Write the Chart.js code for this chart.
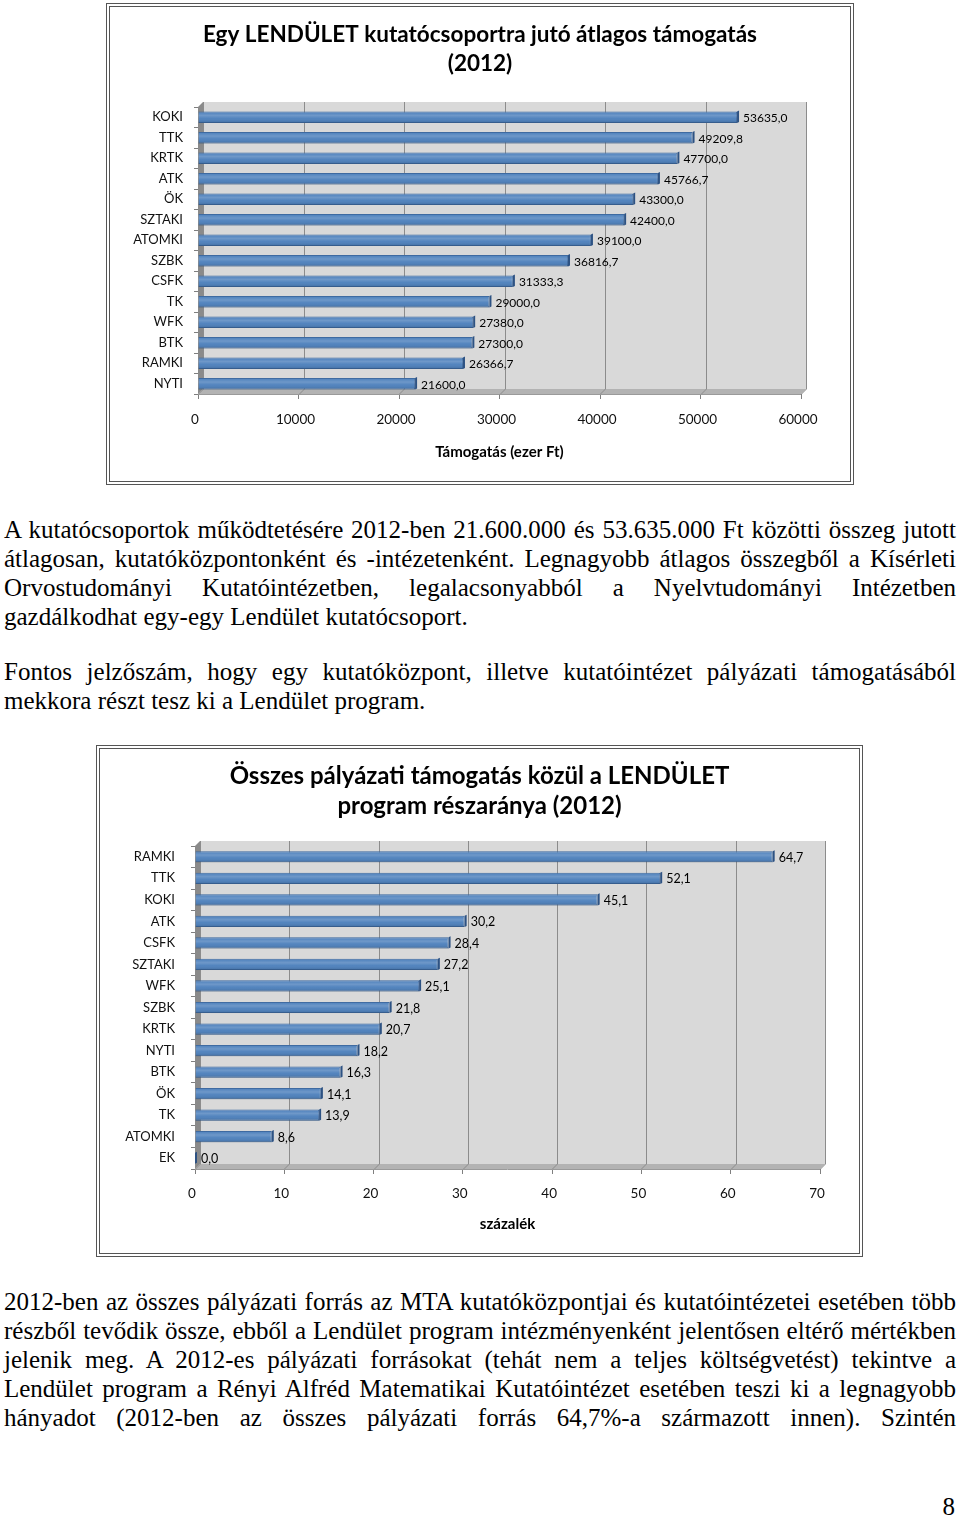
<!DOCTYPE html>
<html>
<head>
<meta charset="utf-8">
<script src="https://cdn.jsdelivr.net/npm/chart.js@4.4.1/dist/chart.umd.min.js"></script>
<style>
  body { margin: 0; background: #fff; }
  #page { position: relative; width: 960px; height: 1517px; overflow: hidden;
          font-family: "Liberation Serif", "Times New Roman", serif; color: #000; }
  .frame { position: absolute; box-sizing: border-box; border: 4px double #555; background: #fff; }
  .line { position: absolute; left: 4px; width: 952px; font-size: 25px; line-height: 29px;
          text-align: justify; text-align-last: justify; }
  .line.last { text-align-last: left; }
  canvas { position: absolute; }
  #pageno { position: absolute; right: 5px; top: 1492px; font-size: 25px; line-height: 29px; }
</style>
</head>
<body>
<div id="page">
  <div class="frame" style="left:106px;top:3px;width:748px;height:482px"></div>
  <canvas id="chart1" width="740" height="474" style="left:110px;top:7px"></canvas>

  <div class="line" style="top:515px">A kutatócsoportok működtetésére 2012-ben 21.600.000 és 53.635.000 Ft közötti összeg jutott</div>
  <div class="line" style="top:544px">átlagosan, kutatóközpontonként és -intézetenként. Legnagyobb átlagos összegből a Kísérleti</div>
  <div class="line" style="top:573px">Orvostudományi Kutatóintézetben, legalacsonyabból a Nyelvtudományi Intézetben</div>
  <div class="line last" style="top:602px">gazdálkodhat egy-egy Lendület kutatócsoport.</div>
  <div class="line" style="top:657px">Fontos jelzőszám, hogy egy kutatóközpont, illetve kutatóintézet pályázati támogatásából</div>
  <div class="line last" style="top:686px">mekkora részt tesz ki a Lendület program.</div>

  <div class="frame" style="left:96px;top:745px;width:767px;height:512px"></div>
  <canvas id="chart2" width="759" height="504" style="left:100px;top:749px"></canvas>

  <div class="line" style="top:1287px">2012-ben az összes pályázati forrás az MTA kutatóközpontjai és kutatóintézetei esetében több</div>
  <div class="line" style="top:1316px">részből tevődik össze, ebből a Lendület program intézményenként jelentősen eltérő mértékben</div>
  <div class="line" style="top:1345px">jelenik meg. A 2012-es pályázati forrásokat (tehát nem a teljes költségvetést) tekintve a</div>
  <div class="line" style="top:1374px">Lendület program a Rényi Alfréd Matematikai Kutatóintézet esetében teszi ki a legnagyobb</div>
  <div class="line" style="top:1403px">hányadot (2012-ben az összes pályázati forrás 64,7%-a származott innen). Szintén</div>
  <div id="pageno">8</div>
</div>

<script>
// Chart 1: average support per LENDÜLET group (thousand Ft)
const avgLabels = ["KOKI", "TTK", "KRTK", "ATK", "ÖK", "SZTAKI", "ATOMKI", "SZBK", "CSFK", "TK", "WFK", "BTK", "RAMKI", "NYTI"];
const avgValues = [53635.0, 49209.8, 47700.0, 45766.7, 43300.0, 42400.0, 39100.0, 36816.7, 31333.3, 29000.0, 27380.0, 27300.0, 26366.7, 21600.0];
const avgTicks = [0, 10000, 20000, 30000, 40000, 50000, 60000];

// Chart 2: share of LENDÜLET in all grant funding (percent)
const shareLabels = ["RAMKI", "TTK", "KOKI", "ATK", "CSFK", "SZTAKI", "WFK", "SZBK", "KRTK", "NYTI", "BTK", "ÖK", "TK", "ATOMKI", "EK"];
const shareValues = [64.7, 52.1, 45.1, 30.2, 28.4, 27.2, 25.1, 21.8, 20.7, 18.2, 16.3, 14.1, 13.9, 8.6, 0.0];
const shareTicks = [0, 10, 20, 30, 40, 50, 60, 70];

Chart.defaults.font.family = "Lato, 'Liberation Sans', sans-serif";
Chart.defaults.color = "#111";

// Draws the grey 3D box behind the bars (back wall, floor, left wall, grid)
const wall3d = {
  id: "wall3d",
  beforeDatasetsDraw(chart, args, opts) {
    const { ctx, chartArea: a, scales: { x } } = chart;
    const d = opts.depth;
    const x0 = x.getPixelForValue(x.min);
    const x1 = x.getPixelForValue(x.max);
    ctx.save();
    // back wall
    ctx.fillStyle = "#d9d9d9";
    ctx.fillRect(x0 + d, a.top - d, x1 - x0, a.bottom - a.top);
    // floor
    ctx.fillStyle = "#b3b3b3";
    ctx.beginPath();
    ctx.moveTo(x0, a.bottom);
    ctx.lineTo(x1, a.bottom);
    ctx.lineTo(x1 + d, a.bottom - d);
    ctx.lineTo(x0 + d, a.bottom - d);
    ctx.closePath();
    ctx.fill();
    // left wall
    ctx.fillStyle = "#8a8a8a";
    ctx.beginPath();
    ctx.moveTo(x0, a.top);
    ctx.lineTo(x0 + d, a.top - d);
    ctx.lineTo(x0 + d, a.bottom - d);
    ctx.lineTo(x0, a.bottom);
    ctx.closePath();
    ctx.fill();
    // grid lines on the back wall and floor
    ctx.strokeStyle = "#8c8c8c";
    ctx.lineWidth = 1;
    x.ticks.forEach((t) => {
      const px = Math.round(x.getPixelForValue(t.value)) + 0.5;
      ctx.beginPath();
      ctx.moveTo(px + d, a.top - d);
      ctx.lineTo(px + d, a.bottom - d);
      ctx.lineTo(px, a.bottom);
      ctx.stroke();
    });
    ctx.strokeStyle = "#9a9a9a";
    ctx.beginPath();
    ctx.moveTo(x0, a.bottom + 0.5);
    ctx.lineTo(x1, a.bottom + 0.5);
    ctx.stroke();
    ctx.restore();
  }
};

// Bar shading, end caps and the value labels
const bar3d = {
  id: "bar3d",
  afterDatasetsDraw(chart, args, opts) {
    const ctx = chart.ctx;
    const values = chart.data.datasets[0].data;
    ctx.save();
    chart.getDatasetMeta(0).data.forEach((bar, i) => {
      const { x, y, base, height } = bar.getProps(["x", "y", "base", "height"], true);
      const top = y - height / 2;
      const bot = y + height / 2;
      const g = ctx.createLinearGradient(0, top, 0, bot);
      g.addColorStop(0, "rgba(255,255,255,0.0)");
      g.addColorStop(0.35, "rgba(255,255,255,0.2)");
      g.addColorStop(0.6, "rgba(255,255,255,0.05)");
      g.addColorStop(1, "rgba(0,0,0,0.15)");
      ctx.fillStyle = g;
      ctx.fillRect(base, top, x - base, height);
      // end face
      ctx.fillStyle = "#2d5283";
      ctx.beginPath();
      ctx.moveTo(x, top);
      ctx.lineTo(x + 2, top - 1);
      ctx.lineTo(x + 2, bot - 1);
      ctx.lineTo(x, bot);
      ctx.closePath();
      ctx.fill();
      // value label
      ctx.fillStyle = "#000";
      ctx.font = opts.labelSize + "px Lato, 'Liberation Sans', sans-serif";
      ctx.textAlign = "left";
      ctx.textBaseline = "middle";
      ctx.fillText(values[i].toFixed(1).replace(".", ","), x + 6, y + 1);
    });
    ctx.restore();
  }
};

function makeChart(id, labels, values, ticks, cfg) {
  return new Chart(document.getElementById(id), {
    type: "bar",
    data: {
      labels: labels,
      datasets: [{
        data: values,
        backgroundColor: "#4a7ebb",
        borderColor: "#3a679f",
        borderWidth: 1,
        borderSkipped: "start",
        barPercentage: cfg.barPct,
        categoryPercentage: 1
      }]
    },
    options: {
      indexAxis: "y",
      responsive: false,
      animation: false,
      layout: { padding: 0 },
      plugins: {
        legend: { display: false },
        tooltip: { enabled: false },
        title: {
          display: true,
          text: cfg.title,
          color: "#000",
          font: { size: cfg.titleSize, weight: "bold", lineHeight: cfg.titleLH },
          padding: { top: cfg.titleTop, bottom: cfg.titleBottom }
        },
        wall3d: { depth: cfg.depth },
        bar3d: { labelSize: cfg.labelSize }
      },
      scales: {
        x: {
          min: 0,
          max: ticks[ticks.length - 1],
          afterBuildTicks: (scale) => { scale.ticks = ticks.map((v) => ({ value: v })); },
          afterFit: (scale) => { scale.height = cfg.xHeight; },
          grid: { drawOnChartArea: false, drawTicks: true, tickLength: 5, color: "#7f7f7f" },
          border: { display: false },
          ticks: {
            font: { size: 13.5 }, padding: cfg.xPad, labelOffset: -3, color: "#111",
            callback: (v) => String(v)
          },
          title: {
            display: true,
            text: cfg.xTitle,
            color: "#000",
            font: { size: 15, weight: "bold" },
            padding: { top: 0, bottom: cfg.xTitlePad }
          }
        },
        y: {
          afterFit: (scale) => { scale.width = cfg.yWidth; },
          grid: { drawOnChartArea: false, drawTicks: true, tickLength: 4, offset: true, color: "#7f7f7f" },
          border: { display: false },
          ticks: { font: { size: 13 }, padding: cfg.yPad, color: "#111" }
        },
        // empty right-hand axis, only reserves the margin so the title stays centred
        yRight: {
          type: "category",
          position: "right",
          afterFit: (scale) => { scale.width = cfg.rightGap; },
          grid: { display: false },
          border: { display: false },
          ticks: { display: false }
        }
      }
    },
    plugins: [wall3d, bar3d]
  });
}

makeChart("chart1", avgLabels, avgValues, avgTicks, {
  title: ["Egy LENDÜLET kutatócsoportra jutó átlagos támogatás", "(2012)"],
  titleSize: 22.5, titleLH: 29 / 22.5, titleTop: 13.5, titleBottom: 28.5,
  xTitle: "Támogatás (ezer Ft)", xHeight: 87, xPad: 13, xTitlePad: 20,
  yWidth: 88, yPad: 11, rightGap: 49, barPct: 0.56, depth: 5, labelSize: 12
});

makeChart("chart2", shareLabels, shareValues, shareTicks, {
  title: ["Összes pályázati támogatás közül a LENDÜLET", "program részaránya (2012)"],
  titleSize: 24, titleLH: 30 / 24, titleTop: 12, titleBottom: 25,
  xTitle: "százalék", xHeight: 84, xPad: 12, xTitlePad: 20,
  yWidth: 95, yPad: 16, rightGap: 39, barPct: 0.52, depth: 5, labelSize: 12.5
});
</script>
</body>
</html>
